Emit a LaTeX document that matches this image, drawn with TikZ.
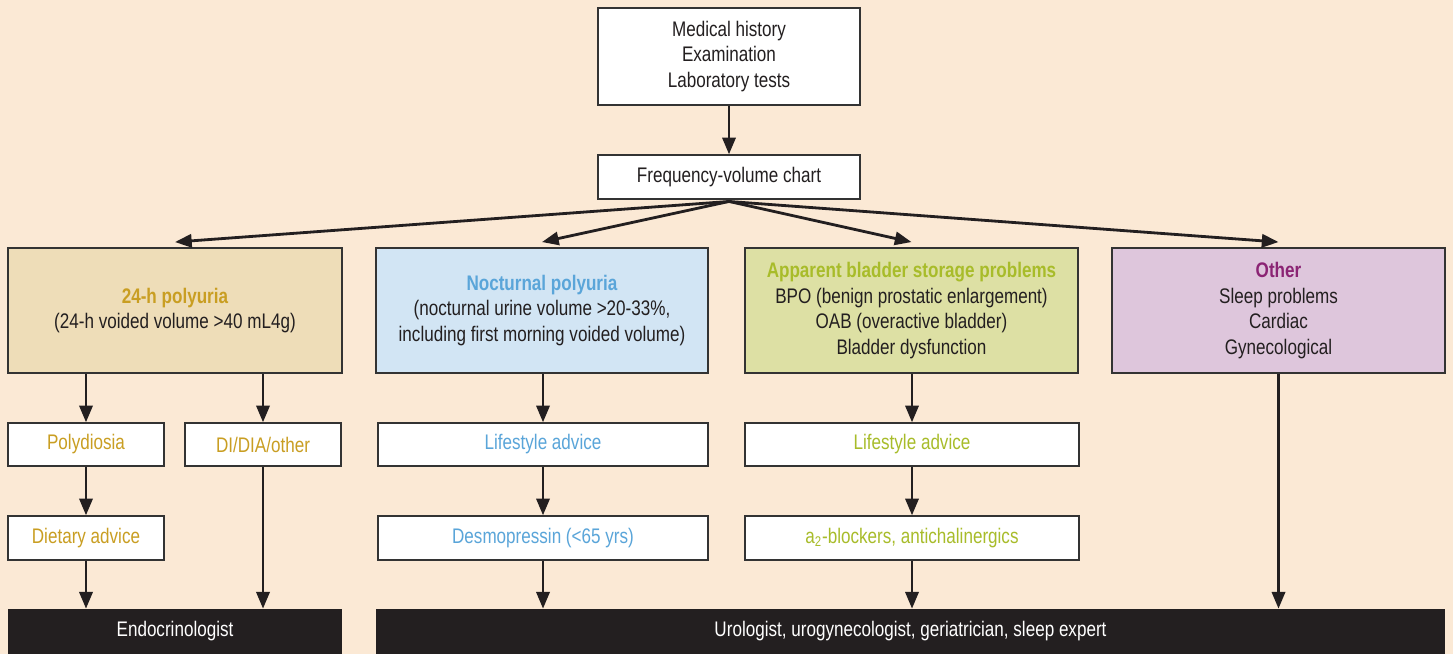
\documentclass[tikz,border=0pt]{standalone}
\usepackage{fontspec}
\setmainfont{Liberation Sans}[FakeStretch=0.81]
\usepackage{tikz}
\usetikzlibrary{arrows.meta}

\definecolor{paper}{HTML}{FBE9D5}
\definecolor{ink}{HTML}{231F20}
\definecolor{boxline}{HTML}{333333}
\definecolor{gold}{HTML}{C99E22}
\definecolor{sky}{HTML}{5AA5D9}
\definecolor{olive}{HTML}{A8BC2A}
\definecolor{plum}{HTML}{8B2474}
\definecolor{goldfill}{HTML}{EEDDB8}
\definecolor{skyfill}{HTML}{D2E5F4}
\definecolor{olivefill}{HTML}{DDE0A4}
\definecolor{plumfill}{HTML}{DEC6DC}

\tikzset{
  box/.style={draw=boxline, line width=0.8pt, fill=white, text=ink, align=center, inner sep=0pt},
  sink/.style={fill=ink, text=white, inner sep=0pt},
  flow/.style={-{Triangle[length=9.5pt,width=7.5pt]}, line width=1.6pt, draw=ink},
}

\begin{document}
\begin{tikzpicture}[x=0.02cm, y=-0.02cm, font=\fontsize{12}{14.5}\selectfont]
  \useasboundingbox (0,0) rectangle (1453,654);
  \fill[paper] (0,0) rectangle (1453,654);

  \node[box, minimum width=5.24cm, minimum height=1.94cm] (hist) at (729,56.5)
    {Medical history\\Examination\\Laboratory tests};
  \node[box, minimum width=5.24cm, minimum height=0.88cm] (chart) at (729,177) {Frequency-volume chart};

  \node[box, fill=goldfill, minimum width=6.68cm, minimum height=2.5cm] (poly) at (175,310.5)
    {\textcolor{gold}{\textbf{24-h polyuria}}\\(24-h voided volume >40 mL4g)};
  \node[box, fill=skyfill, minimum width=6.64cm, minimum height=2.5cm] (noct) at (542,310.5)
    {\textcolor{sky}{\textbf{Nocturnal polyuria}}\\(nocturnal urine volume >20-33\%,\\including first morning voided volume)};
  \node[box, fill=olivefill, minimum width=6.66cm, minimum height=2.5cm] (storage) at (911.5,310.5)
    {\textcolor{olive}{\textbf{Apparent bladder storage problems}}\\BPO (benign prostatic enlargement)\\OAB (overactive bladder)\\Bladder dysfunction};
  \node[box, fill=plumfill, minimum width=6.66cm, minimum height=2.5cm] (other) at (1278.5,310.5)
    {\textcolor{plum}{\textbf{Other}}\\Sleep problems\\Cardiac\\Gynecological};

  \node[box, text=gold, minimum width=3.12cm, minimum height=0.86cm] (polyd) at (86,444.5) {Polydiosia};
  \node[box, text=gold, minimum width=3.12cm, minimum height=0.86cm] (didia) at (263,444.5) {DI/DIA/other};
  \node[box, text=sky, minimum width=6.6cm, minimum height=0.86cm] (lifeN) at (543,444.5) {Lifestyle advice};
  \node[box, text=olive, minimum width=6.68cm, minimum height=0.86cm] (lifeB) at (912,444.5) {Lifestyle advice};

  \node[box, text=gold, minimum width=3.12cm, minimum height=0.88cm] (diet) at (86,538) {Dietary advice};
  \node[box, text=sky, minimum width=6.6cm, minimum height=0.88cm] (desmo) at (543,538) {Desmopressin (<65 yrs)};
  \node[box, text=olive, minimum width=6.68cm, minimum height=0.88cm] (alpha) at (912,538) {a\textsubscript{2}-blockers, antichalinergics};

  \node[sink, minimum width=6.68cm, minimum height=0.9cm] (endo) at (175,631.5) {Endocrinologist};
  \node[sink, minimum width=21.38cm, minimum height=0.9cm] (uro) at (910.5,631.5) {Urologist, urogynecologist, geriatrician, sleep expert};

  \draw[flow] (hist) -- (chart);
  \foreach \t in {poly, noct, storage, other}
    \draw[flow] ([yshift=-1pt]chart.south) -- ([yshift=3pt]\t.north);

  \draw[flow] (polyd.north |- poly.south) -- (polyd.north);
  \draw[flow] (didia.north |- poly.south) -- (didia.north);
  \draw[flow] (lifeN.north |- noct.south) -- (lifeN.north);
  \draw[flow] (lifeB.north |- storage.south) -- (lifeB.north);
  \draw[flow] (other.south) -- (other.south |- uro.north);

  \draw[flow] (polyd) -- (diet);
  \draw[flow] (lifeN) -- (desmo);
  \draw[flow] (lifeB) -- (alpha);
  \draw[flow] (didia.south) -- (didia.south |- endo.north);

  \draw[flow] (diet) -- (diet.south |- endo.north);
  \draw[flow] (desmo) -- (desmo.south |- uro.north);
  \draw[flow] (alpha) -- (alpha.south |- uro.north);
\end{tikzpicture}
\end{document}
